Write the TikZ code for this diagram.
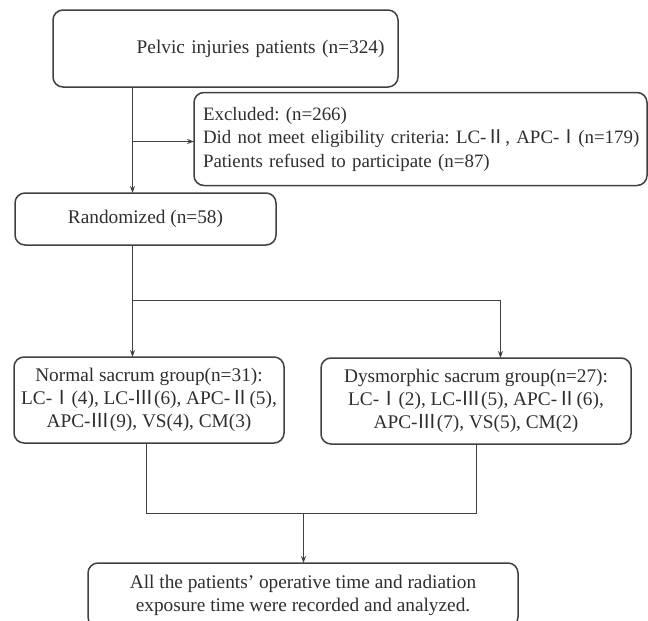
\documentclass[tikz,border=0pt]{standalone}
\usepackage{fontspec}
\setmainfont{Liberation Serif}
\newfontfamily\cjk{Noto Sans CJK SC}
\usetikzlibrary{arrows.meta}
\newcommand\rnI{{\cjk Ⅰ}}
\newcommand\rnII{{\cjk Ⅱ}}
\newcommand\rnIII{{\cjk Ⅲ}}
\definecolor{ln}{HTML}{404040}
\definecolor{tx}{HTML}{2E2E2E}
\frenchspacing
\begin{document}
\begin{tikzpicture}[x=1pt,y=-1pt,
  box/.style={draw=ln, line width=1.5pt, rounded corners=10pt, text=tx,
    font=\fontsize{19.3}{23.2}\selectfont, inner sep=0pt, outer sep=0pt},
  conn/.style={draw=ln, line width=1.5pt},
  arr/.style={conn, -{Stealth[length=7pt,width=5pt]}}]
\useasboundingbox (0,0) rectangle (648,621);
\begin{scope}
\clip (0,0) rectangle (648,621);
\node[box, minimum width=345pt, minimum height=77pt, text width=318pt, align=right] (top) at (225.5,48.5) {Pelvic injuries patients (n=324)};
\node[box, minimum width=453pt, minimum height=93pt, text width=435pt, align=left, font=\fontsize{18.9}{23.5}\selectfont] (excl) at (420.5,139) {Excluded: (n=266)\\\mbox{Did not meet eligibility criteria: LC-\rnII, APC-\rnI (n=179)}\\Patients refused to participate (n=87)};
\node[box, minimum width=261pt, minimum height=52pt, align=center] (rand) at (145.5,219) {Randomized (n=58)};
\node[box, minimum width=270pt, minimum height=86pt, align=center] (norm) at (149,400) {Normal sacrum group(n=31):\\LC-\rnI(4), LC-\rnIII(6), APC-\rnII(5),\\APC-\rnIII(9), VS(4), CM(3)};
\node[box, minimum width=310pt, minimum height=86pt, align=center] (dysm) at (476,401) {Dysmorphic sacrum group(n=27):\\LC-\rnI(2), LC-\rnIII(5), APC-\rnII(6),\\APC-\rnIII(7), VS(5), CM(2)};
\node[box, minimum width=430pt, minimum height=64pt, align=center] (final) at (303,595) {All the patients’ operative time and radiation\\exposure time were recorded and analyzed.};
\coordinate (spine) at (132.5,0);
\coordinate (br) at (132.5,141.5);
\coordinate (split) at (132.5,300.5);
\coordinate (dx) at (500.5,300.5);
\coordinate (jl) at (146.5,513.5);
\coordinate (jr) at (476.5,513.5);
\coordinate (jm) at (303.5,513.5);
\draw[arr] (top.south -| spine) -- (rand.north -| spine);
\draw[arr] (br) -- (excl.west |- br);
\draw[conn] (rand.south -| spine) -- (split);
\draw[arr] (split) -- (norm.north -| split);
\draw[arr] (split) -- (dx) -- (dysm.north -| dx);
\draw[conn] (norm.south -| jl) -- (jl) -- (jr) -- (dysm.south -| jr);
\draw[arr] (jm) -- (final.north -| jm);
\end{scope}
\end{tikzpicture}
\end{document}
